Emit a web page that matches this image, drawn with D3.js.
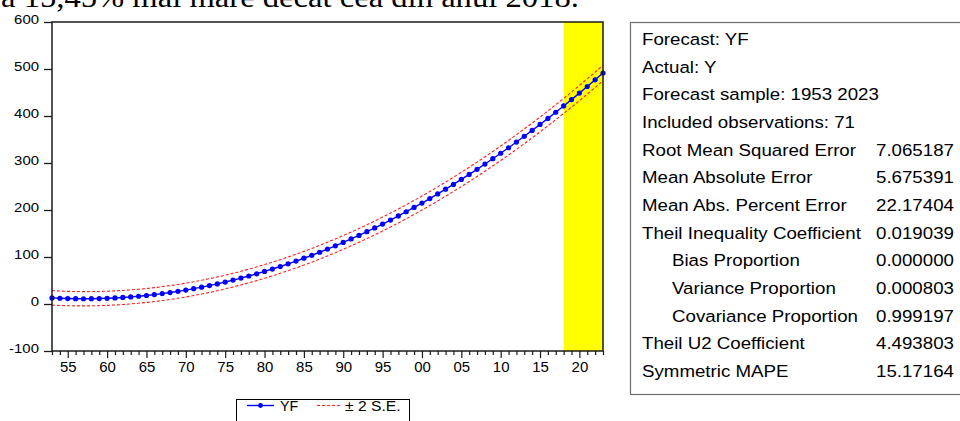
<!DOCTYPE html>
<html>
<head>
<meta charset="utf-8">
<script src="https://cdn.jsdelivr.net/npm/d3@7/dist/d3.min.js"></script>
<style>
  body { margin: 0; background: #fff; }
  svg { display: block; }
</style>
</head>
<body>
<svg id="chart" width="960" height="421"></svg>
<script>
// ---- data -------------------------------------------------------------
const firstYear = 1953;
const lastYear = 2023;
const forecastFrom = 2018;

// fitted values YF, 1953..2023
const yf = [
  13.0, 12.2, 11.6, 11.3, 11.2, 11.3, 11.6, 12.1, 12.9, 13.9,
  15.1, 16.5, 18.1, 20.0, 22.1, 24.4, 26.9, 29.6, 32.6, 35.8,
  39.2, 42.8, 46.7, 50.8, 55.1, 59.6, 64.3, 69.3, 74.4, 79.8,
  85.5, 91.3, 97.4, 103.6, 110.1, 116.9, 123.8, 131.0, 138.4, 146.0,
  153.8, 161.9, 170.1, 178.6, 187.3, 196.3, 205.4, 214.8, 224.4, 234.2,
  244.3, 254.5, 265.0, 275.7, 286.6, 297.8, 309.1, 320.7, 332.5, 344.6,
  356.8, 369.3, 382.0, 394.9, 408.0, 421.4, 434.9, 448.7, 462.8, 477.0,
  491.5
];

// forecast standard errors, 1953..2023
const se = [
  7.72, 7.69, 7.66, 7.63, 7.60, 7.58, 7.55, 7.53, 7.50, 7.48,
  7.46, 7.44, 7.42, 7.41, 7.39, 7.38, 7.36, 7.35, 7.34, 7.33,
  7.32, 7.31, 7.30, 7.30, 7.29, 7.29, 7.28, 7.28, 7.28, 7.28,
  7.28, 7.28, 7.29, 7.29, 7.30, 7.30, 7.31, 7.32, 7.33, 7.34,
  7.35, 7.37, 7.38, 7.40, 7.41, 7.43, 7.45, 7.47, 7.49, 7.51,
  7.54, 7.56, 7.59, 7.61, 7.64, 7.67, 7.70, 7.73, 7.76, 7.79,
  7.83, 7.86, 7.90, 7.93, 7.97, 8.01, 8.05, 8.09, 8.13, 8.17,
  8.21
];

const yTicks = [-100, 0, 100, 200, 300, 400, 500, 600];
const xMajorYears = [1955, 1960, 1965, 1970, 1975, 1980, 1985, 1990, 1995,
                     2000, 2005, 2010, 2015, 2020];
const xMajorLabels = ["55", "60", "65", "70", "75", "80", "85", "90", "95",
                      "00", "05", "10", "15", "20"];

const statLabels = [
  "Forecast: YF",
  "Actual: Y",
  "Forecast sample: 1953 2023",
  "Included observations: 71",
  "Root Mean Squared Error",
  "Mean Absolute Error",
  "Mean Abs. Percent Error",
  "Theil Inequality Coefficient",
  "Bias Proportion",
  "Variance Proportion",
  "Covariance Proportion",
  "Theil U2 Coefficient",
  "Symmetric MAPE"
];
const statValues = [
  "", "", "", "",
  "7.065187", "5.675391", "22.17404", "0.019039",
  "0.000000", "0.000803", "0.999197", "4.493803", "15.17164"
];
const statIndented = [false, false, false, false, false, false, false, false,
                      true, true, true, false, false];

const headingText = "a 15,45% mai mare decât cea din anul 2018.";

// ---- layout -----------------------------------------------------------
const FONT = "'Liberation Sans', Arial, Helvetica, sans-serif";
const plot = { left: 52, right: 603, top: 22, bottom: 351 };

const svg = d3.select("#chart");
svg.append("rect").attr("width", 960).attr("height", 421).attr("fill", "#fff");

// horizontally widened text, as the export stretches its glyphs
function widen(sel, sx) {
  sel.each(function () {
    const t = d3.select(this);
    const x = +t.attr("x") || 0;
    const y = +t.attr("y") || 0;
    t.attr("x", 0).attr("y", 0)
     .attr("transform", `translate(${x},${y}) scale(${sx},1)`);
  });
}

// heading line of the surrounding document (clipped at the top edge)
svg.append("text")
  .attr("x", 1).attr("y", 7)
  .attr("font-family", "'Liberation Serif', 'Times New Roman', serif")
  .attr("font-size", 29)
  .attr("fill", "#000")
  .text(headingText)
  .call(widen, 1.125);

const years = yf.map((_, i) => firstYear + i);

const x = d3.scaleLinear().domain([firstYear, lastYear]).range([plot.left, plot.right]);
const y = d3.scaleLinear().domain([-100, 600]).range([plot.bottom, plot.top]);

// forecast period shading
svg.append("rect")
  .attr("x", x(forecastFrom)).attr("y", plot.top)
  .attr("width", x(lastYear) - x(forecastFrom))
  .attr("height", plot.bottom - plot.top)
  .attr("fill", "#ffff00");

const rows = years.map((yr, i) => ({ yr, f: yf[i], up: yf[i] + 2 * se[i], lo: yf[i] - 2 * se[i] }));

// +/- 2 S.E. bands
const seriesLine = key => d3.line().x(d => x(d.yr)).y(d => y(d[key]));
["up", "lo"].forEach(k => {
  svg.append("path")
    .datum(rows)
    .attr("d", seriesLine(k))
    .attr("fill", "none")
    .attr("stroke", "#ff2020")
    .attr("stroke-width", 1.1)
    .attr("stroke-dasharray", "3,2");
});

// forecast line with markers
svg.append("path")
  .datum(rows)
  .attr("d", seriesLine("f"))
  .attr("fill", "none")
  .attr("stroke", "#0000ff")
  .attr("stroke-width", 1.4);

svg.append("g").selectAll("circle")
  .data(rows)
  .join("circle")
  .attr("cx", d => x(d.yr))
  .attr("cy", d => y(d.f))
  .attr("r", 2.6)
  .attr("fill", "#0000ff");

// frame
svg.append("rect")
  .attr("x", plot.left).attr("y", plot.top)
  .attr("width", plot.right - plot.left)
  .attr("height", plot.bottom - plot.top)
  .attr("fill", "none")
  .attr("stroke", "#1a1a1a")
  .attr("stroke-width", 1.5);

// y axis
const yAxis = svg.append("g")
  .attr("transform", `translate(${plot.left},0)`)
  .call(d3.axisLeft(y).tickValues(yTicks).tickSize(8).tickPadding(5)
        .tickFormat(d => String(d)));
yAxis.select(".domain").remove();
yAxis.selectAll("line").attr("stroke", "#1a1a1a").attr("stroke-width", 1.3);
yAxis.selectAll("text")
  .attr("font-family", FONT).attr("font-size", 13).attr("fill", "#000")
  .attr("dy", null).attr("y", 1)
  .call(widen, 1.15);

// x axis: yearly minor ticks, labelled major ticks every five years
const majorIdx = new Map(xMajorYears.map((yr, i) => [yr, i]));
const xAxis = svg.append("g")
  .attr("transform", `translate(0,${plot.bottom})`)
  .call(d3.axisBottom(x).tickValues(years).tickSize(4)
        .tickFormat(d => majorIdx.has(d) ? xMajorLabels[majorIdx.get(d)] : ""));
xAxis.select(".domain").remove();
xAxis.selectAll(".tick line")
  .attr("stroke", "#1a1a1a").attr("stroke-width", 1.2)
  .attr("y2", d => majorIdx.has(d) ? 7 : 4);
xAxis.selectAll("text")
  .attr("font-family", FONT).attr("font-size", 14).attr("fill", "#000")
  .attr("dy", null).attr("y", 21)
  .call(widen, 1.07);

// legend
const lg = svg.append("g");
lg.append("rect")
  .attr("x", 236.5).attr("y", 399.5).attr("width", 173).attr("height", 30)
  .attr("fill", "#fff").attr("stroke", "#000").attr("stroke-width", 1);
lg.append("line").attr("x1", 247).attr("x2", 274).attr("y1", 405.5).attr("y2", 405.5)
  .attr("stroke", "#0000ff").attr("stroke-width", 1.4);
lg.append("circle").attr("cx", 260.5).attr("cy", 405.5).attr("r", 2.4).attr("fill", "#0000ff");
lg.append("text").attr("x", 280).attr("y", 411)
  .attr("font-family", FONT).attr("font-size", 14).text("YF").call(widen, 1.02);
lg.append("line").attr("x1", 317).attr("x2", 341).attr("y1", 405.5).attr("y2", 405.5)
  .attr("stroke", "#ff2020").attr("stroke-width", 1.1).attr("stroke-dasharray", "3,2");
lg.append("text").attr("x", 345).attr("y", 411)
  .attr("font-family", FONT).attr("font-size", 14).text("\u00b1 2 S.E.").call(widen, 1.12);

// statistics box
const sb = svg.append("g");
sb.append("rect")
  .attr("x", 630.5).attr("y", 22.5).attr("width", 340).attr("height", 372)
  .attr("fill", "#fff").attr("stroke", "#6e6e6e").attr("stroke-width", 1.2);
const rowY = d3.scaleLinear().domain([0, statLabels.length - 1]).range([45, 377]);
statLabels.forEach((lab, i) => {
  sb.append("text")
    .attr("x", statIndented[i] ? 672 : 642).attr("y", rowY(i))
    .attr("font-family", FONT).attr("font-size", 17).attr("fill", "#000")
    .text(lab).call(widen, 1.1);
  if (statValues[i]) {
    sb.append("text")
      .attr("x", 876).attr("y", rowY(i))
      .attr("font-family", FONT).attr("font-size", 17).attr("fill", "#000")
      .text(statValues[i]).call(widen, 1.1);
  }
});
</script>
</body>
</html>
